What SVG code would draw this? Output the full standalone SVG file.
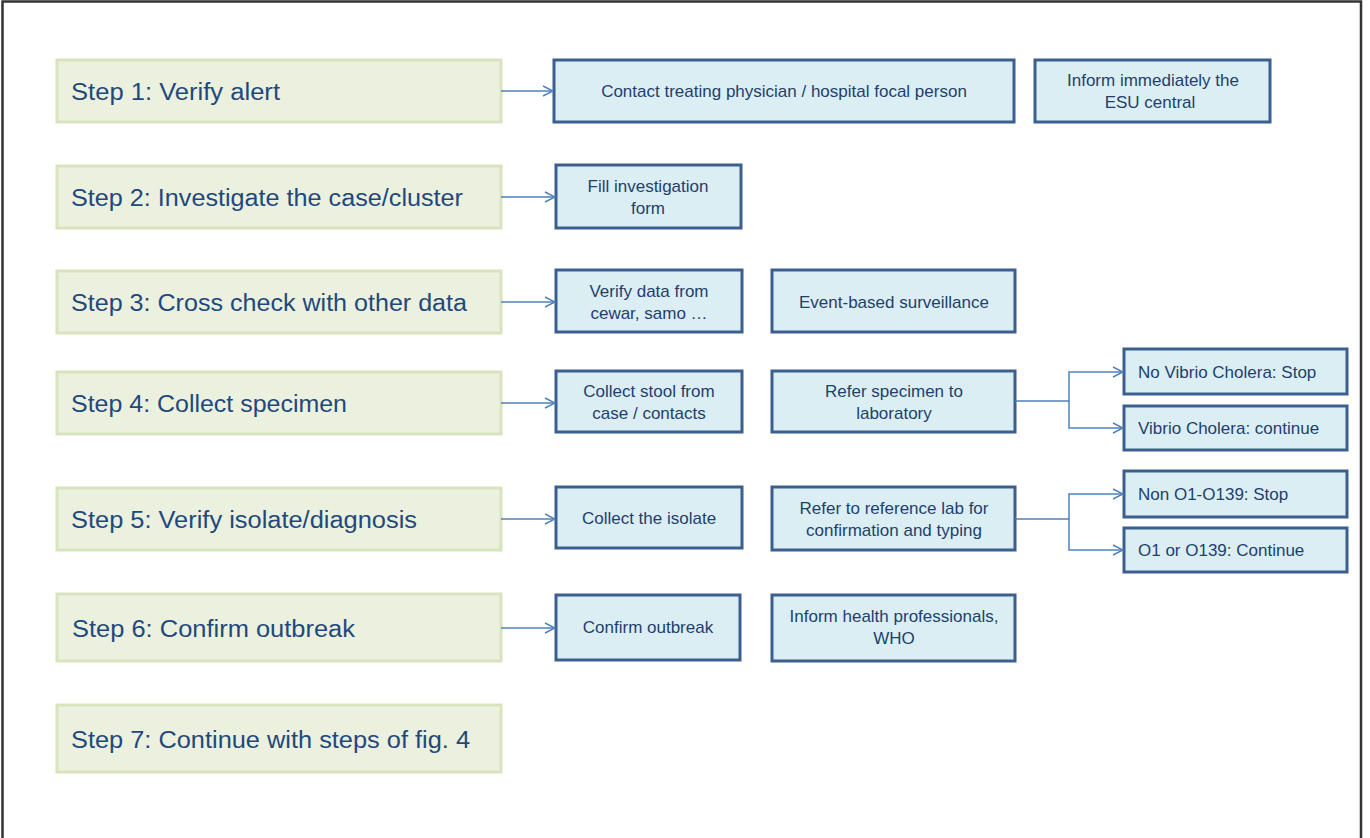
<svg xmlns="http://www.w3.org/2000/svg" width="1370" height="838" viewBox="0 0 1370 838">
  <style>
    .step rect { fill: #ebf1de; stroke: #d7e4bd; stroke-width: 3; }
    .step text { font-family: "Liberation Sans", Arial, sans-serif; font-size: 23px; fill: #1f497d; }
    .task rect { fill: #dbeef4; stroke: #3b5f8e; stroke-width: 3; }
    .task text { font-family: "Liberation Sans", Arial, sans-serif; font-size: 17px; fill: #1f3f6e; text-anchor: middle; }
    .task text.l { text-anchor: start; }
    .conn path { fill: none; stroke: #4f81bd; stroke-width: 1.5; }
  </style>
  <defs>
    <marker id="arrow" viewBox="0 0 12 12" refX="11" refY="6" markerWidth="12" markerHeight="12" markerUnits="userSpaceOnUse" orient="auto">
      <path d="M1,1 L11,6 L1,11" fill="none" stroke="#4f81bd" stroke-width="1.5"/>
    </marker>
  </defs>

  <rect width="1370" height="838" fill="#ffffff"/>
  <!-- page frame -->
  <path d="M2.5,838 V1.5 H1361 V838" fill="none" stroke="#333333" stroke-width="2.5"/>

  <!-- step column -->
  <g id="step1" class="step"><rect x="57" y="60" width="444" height="62"/><text x="71" y="100" textLength="209" lengthAdjust="spacingAndGlyphs">Step 1: Verify alert</text></g>
  <g id="step2" class="step"><rect x="57" y="166" width="444" height="62"/><text x="71" y="206" textLength="392" lengthAdjust="spacingAndGlyphs">Step 2: Investigate the case/cluster</text></g>
  <g id="step3" class="step"><rect x="57" y="271" width="444" height="62"/><text x="71" y="311" textLength="396" lengthAdjust="spacingAndGlyphs">Step 3: Cross check with other data</text></g>
  <g id="step4" class="step"><rect x="57" y="372" width="444" height="62"/><text x="71" y="412" textLength="276" lengthAdjust="spacingAndGlyphs">Step 4: Collect specimen</text></g>
  <g id="step5" class="step"><rect x="57" y="488" width="444" height="62"/><text x="71" y="528" textLength="346" lengthAdjust="spacingAndGlyphs">Step 5: Verify isolate/diagnosis</text></g>
  <g id="step6" class="step"><rect x="57" y="594" width="444" height="67"/><text x="72" y="637" textLength="283" lengthAdjust="spacingAndGlyphs">Step 6: Confirm outbreak</text></g>
  <g id="step7" class="step"><rect x="57" y="705" width="444" height="67"/><text x="71" y="748" textLength="399" lengthAdjust="spacingAndGlyphs">Step 7: Continue with steps of fig. 4</text></g>

  <!-- action boxes -->
  <g id="contact" class="task"><rect x="554" y="60" width="460" height="62"/><text x="784" y="97">Contact treating physician / hospital focal person</text></g>
  <g id="inform-esu" class="task"><rect x="1035" y="60" width="235" height="62"/><text x="1153" y="86">Inform immediately the</text><text x="1150" y="108">ESU central</text></g>
  <g id="fill-form" class="task"><rect x="556" y="165" width="185" height="63"/><text x="648" y="192">Fill investigation</text><text x="648" y="214">form</text></g>
  <g id="verify-data" class="task"><rect x="556" y="270" width="186" height="62"/><text x="649" y="297">Verify data from</text><text x="649" y="319">cewar, samo …</text></g>
  <g id="ebs" class="task"><rect x="772" y="270" width="243" height="62"/><text x="894" y="308">Event-based surveillance</text></g>
  <g id="collect-stool" class="task"><rect x="556" y="371" width="186" height="61"/><text x="649" y="397">Collect stool from</text><text x="649" y="419">case / contacts</text></g>
  <g id="refer-specimen" class="task"><rect x="772" y="371" width="243" height="61"/><text x="894" y="397">Refer specimen to</text><text x="894" y="419">laboratory</text></g>
  <g id="no-vibrio" class="task"><rect x="1124" y="349" width="223" height="45"/><text class="l" x="1138" y="378">No Vibrio Cholera: Stop</text></g>
  <g id="vibrio" class="task"><rect x="1124" y="406" width="223" height="44"/><text class="l" x="1138" y="434">Vibrio Cholera: continue</text></g>
  <g id="collect-isolate" class="task"><rect x="556" y="487" width="186" height="61"/><text x="649" y="524">Collect the isolate</text></g>
  <g id="refer-lab" class="task"><rect x="772" y="487" width="243" height="63"/><text x="894" y="514">Refer to reference lab for</text><text x="894" y="536">confirmation and typing</text></g>
  <g id="non-o1" class="task"><rect x="1124" y="471" width="223" height="46"/><text class="l" x="1138" y="500">Non O1-O139: Stop</text></g>
  <g id="o1" class="task"><rect x="1124" y="528" width="223" height="44"/><text class="l" x="1138" y="556">O1 or O139: Continue</text></g>
  <g id="confirm" class="task"><rect x="556" y="595" width="184" height="65"/><text x="648" y="633">Confirm outbreak</text></g>
  <g id="inform-who" class="task"><rect x="772" y="595" width="243" height="66"/><text x="894" y="622">Inform health professionals,</text><text x="894" y="644">WHO</text></g>

  <!-- connectors -->
  <g id="connectors" class="conn">
    <path d="M501,91 H553" marker-end="url(#arrow)"/>
    <path d="M501,197 H555" marker-end="url(#arrow)"/>
    <path d="M501,302 H555" marker-end="url(#arrow)"/>
    <path d="M501,403 H555" marker-end="url(#arrow)"/>
    <path d="M501,519 H555" marker-end="url(#arrow)"/>
    <path d="M501,628 H555" marker-end="url(#arrow)"/>
    <path d="M1015,401 H1069"/>
    <path d="M1069,401 V372 H1123" marker-end="url(#arrow)"/>
    <path d="M1069,401 V428 H1123" marker-end="url(#arrow)"/>
    <path d="M1015,519 H1069"/>
    <path d="M1069,519 V494 H1123" marker-end="url(#arrow)"/>
    <path d="M1069,519 V550 H1123" marker-end="url(#arrow)"/>
  </g>
</svg>
